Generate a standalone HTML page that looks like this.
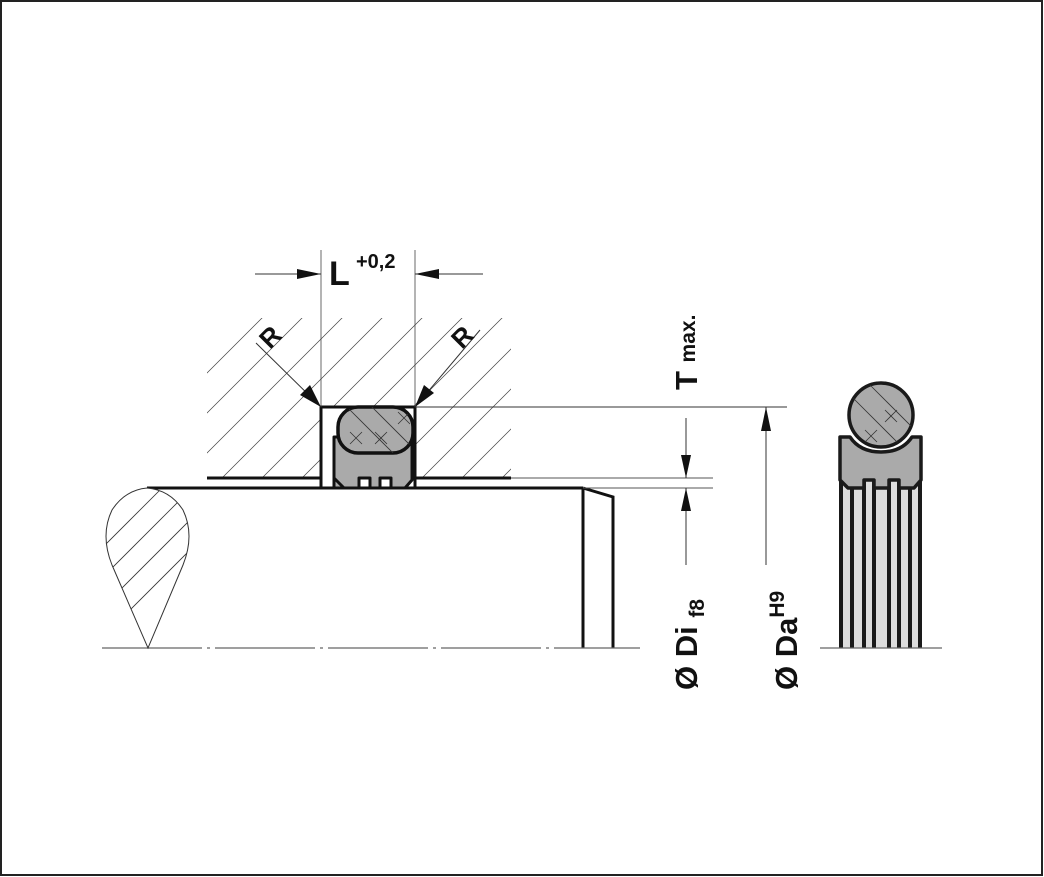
<!DOCTYPE html>
<html><head><meta charset="utf-8"><style>
html,body{margin:0;padding:0;background:#fff}
svg{display:block}
text{font-family:"Liberation Sans",Arial,sans-serif;font-weight:bold;fill:#111}
</style></head><body>
<svg width="1044" height="877" viewBox="0 0 1044 877" xmlns="http://www.w3.org/2000/svg">
<defs>
<clipPath id="hc">
<path d="M207,318 L511,318 L511,478 L415,478 L415,407 L321,407 L321,478 L207,478 Z"/>
</clipPath>
<clipPath id="oc"><rect x="338" y="407" width="75" height="46" rx="20"/></clipPath>
<clipPath id="cc"><circle cx="881" cy="415" r="32"/></clipPath>
<clipPath id="pc"><path d="M147,488 Q125,490 112,510 Q100,535 112,565 L148,648 L183,565 Q195,535 183,510 Q170,490 147,488 Z"/></clipPath>
</defs>
<rect x="1" y="1" width="1041" height="874" fill="#fff" stroke="#222" stroke-width="2"/>

<g clip-path="url(#hc)" stroke="#444" stroke-width="0.7">
<line x1="140" y1="520" x2="360" y2="300"/><line x1="180" y1="520" x2="400" y2="300"/>
<line x1="220" y1="520" x2="440" y2="300"/><line x1="260" y1="520" x2="480" y2="300"/>
<line x1="300" y1="520" x2="520" y2="300"/><line x1="340" y1="520" x2="560" y2="300"/>
<line x1="380" y1="520" x2="600" y2="300"/><line x1="420" y1="520" x2="640" y2="300"/>
<line x1="460" y1="520" x2="680" y2="300"/><line x1="500" y1="520" x2="720" y2="300"/>
<line x1="100" y1="520" x2="320" y2="300"/><line x1="60" y1="520" x2="280" y2="300"/>
</g>
<path d="M321,488 L321,407 L415,407 L415,488" fill="none" stroke="#111" stroke-width="3"/>
<line x1="207" y1="478" x2="321" y2="478" stroke="#111" stroke-width="3"/>
<line x1="415" y1="478" x2="511" y2="478" stroke="#111" stroke-width="3"/>
<path d="M334,488 L334,437 L340,437 L340,440 L412,440 L412,480 L405,488 L391,488 L391,478 L380,478 L380,488 L370,488 L370,478 L359,478 L359,488 Z" fill="#aaa" stroke="#111" stroke-width="3" stroke-linejoin="round"/>
<path d="M334,478 L344,488" stroke="#111" stroke-width="3"/>
<rect x="338" y="407" width="75" height="46" rx="20" fill="#aaa" stroke="#111" stroke-width="3.5"/>
<g clip-path="url(#oc)" stroke="#333" stroke-width="0.8">
<line x1="340" y1="400" x2="400" y2="460"/><line x1="365" y1="400" x2="425" y2="460"/>
<line x1="350" y1="432" x2="362" y2="444"/><line x1="362" y1="432" x2="350" y2="444"/>
<line x1="375" y1="432" x2="387" y2="444"/><line x1="387" y1="432" x2="375" y2="444"/>
<line x1="398" y1="412" x2="410" y2="424"/><line x1="410" y1="412" x2="398" y2="424"/>
</g>
<line x1="147" y1="488" x2="583" y2="488" stroke="#111" stroke-width="3"/>
<path d="M583,488 L613,497 L613,648 M583,488 L583,648" fill="none" stroke="#111" stroke-width="3"/>
<line x1="102" y1="648" x2="640" y2="648" stroke="#666" stroke-width="1.2" stroke-dasharray="100,5,3,5"/>
<line x1="583" y1="488" x2="713" y2="488" stroke="#555" stroke-width="1"/>
<line x1="511" y1="478" x2="713" y2="478" stroke="#555" stroke-width="1"/>
<path d="M147,488 Q125,490 112,510 Q100,535 112,565 L148,648 L183,565 Q195,535 183,510 Q170,490 147,488 Z" fill="#fff" stroke="#333" stroke-width="1"/>
<g clip-path="url(#pc)" stroke="#333" stroke-width="0.8">
<line x1="90" y1="560" x2="190" y2="460"/><line x1="90" y1="590" x2="200" y2="480"/>
<line x1="100" y1="610" x2="210" y2="500"/><line x1="110" y1="630" x2="210" y2="530"/>
<line x1="90" y1="530" x2="170" y2="450"/>
</g>
<line x1="321" y1="250" x2="321" y2="407" stroke="#444" stroke-width="0.8"/>
<line x1="415" y1="250" x2="415" y2="407" stroke="#444" stroke-width="0.8"/>
<line x1="255" y1="274" x2="321" y2="274" stroke="#333" stroke-width="1"/>
<polygon points="321,274 297,269 297,279" fill="#111"/>
<line x1="415" y1="274" x2="483" y2="274" stroke="#333" stroke-width="1"/>
<polygon points="415,274 439,269 439,279" fill="#111"/>
<text x="329" y="285" font-size="34">L</text>
<text x="356" y="268" font-size="20">+0,2</text>
<line x1="256" y1="343" x2="321" y2="407" stroke="#333" stroke-width="1"/>
<polygon points="321,407 300,395 310,385" fill="#111"/>
<line x1="480" y1="330" x2="415" y2="407" stroke="#333" stroke-width="1"/>
<polygon points="415,407 424,385 434,393" fill="#111"/>
<text transform="translate(270,350) rotate(-45)" font-size="26">R</text>
<text transform="translate(462,350) rotate(-45)" font-size="26">R</text>
<line x1="415" y1="407" x2="787" y2="407" stroke="#333" stroke-width="1"/>
<line x1="686" y1="418" x2="686" y2="478" stroke="#333" stroke-width="1"/>
<polygon points="686,478 681,455 691,455" fill="#111"/>
<line x1="686" y1="488" x2="686" y2="565" stroke="#333" stroke-width="1"/>
<polygon points="686,488 681,511 691,511" fill="#111"/>
<line x1="766" y1="407" x2="766" y2="565" stroke="#333" stroke-width="1"/>
<polygon points="766,407 761,431 771,431" fill="#111"/>
<text transform="translate(697,390) rotate(-90)" font-size="31">T <tspan font-size="21" dy="-2">max.</tspan></text>
<text transform="translate(697,690) rotate(-90)" font-size="31">Ø Di <tspan font-size="21" dy="7">f8</tspan></text>
<text transform="translate(797,690) rotate(-90)" font-size="31">Ø Da<tspan font-size="21" dy="-13">H9</tspan></text>
<rect x="840" y="480" width="81" height="168" fill="#ddd"/>
<g stroke="#1a1a1a" stroke-width="4">
<line x1="841" y1="437" x2="841" y2="648"/><line x1="852" y1="488" x2="852" y2="648"/>
<line x1="864" y1="480" x2="864" y2="648"/><line x1="874" y1="480" x2="874" y2="648"/>
<line x1="889" y1="480" x2="889" y2="648"/><line x1="899" y1="480" x2="899" y2="648"/>
<line x1="910" y1="488" x2="910" y2="648"/><line x1="920" y1="437" x2="920" y2="648"/>
</g>
<path d="M840,437 L850,437 Q860,452 881,452 Q902,452 912,437 L921,437 L921,480 L914,488 L899,488 L899,480 L889,480 L889,488 L874,488 L874,480 L864,480 L864,488 L848,488 L840,480 Z" fill="#aaa" stroke="#1a1a1a" stroke-width="3.5" stroke-linejoin="round"/>
<circle cx="881" cy="415" r="32" fill="#aaa" stroke="#1a1a1a" stroke-width="3.5"/>
<g clip-path="url(#cc)" stroke="#333" stroke-width="0.8">
<line x1="850" y1="395" x2="905" y2="450"/><line x1="870" y1="385" x2="925" y2="440"/>
<line x1="865" y1="430" x2="877" y2="442"/><line x1="877" y1="430" x2="865" y2="442"/>
<line x1="885" y1="410" x2="897" y2="422"/><line x1="897" y1="410" x2="885" y2="422"/>
</g>
<line x1="820" y1="648" x2="942" y2="648" stroke="#666" stroke-width="1.2"/>
</svg>
</body></html>
